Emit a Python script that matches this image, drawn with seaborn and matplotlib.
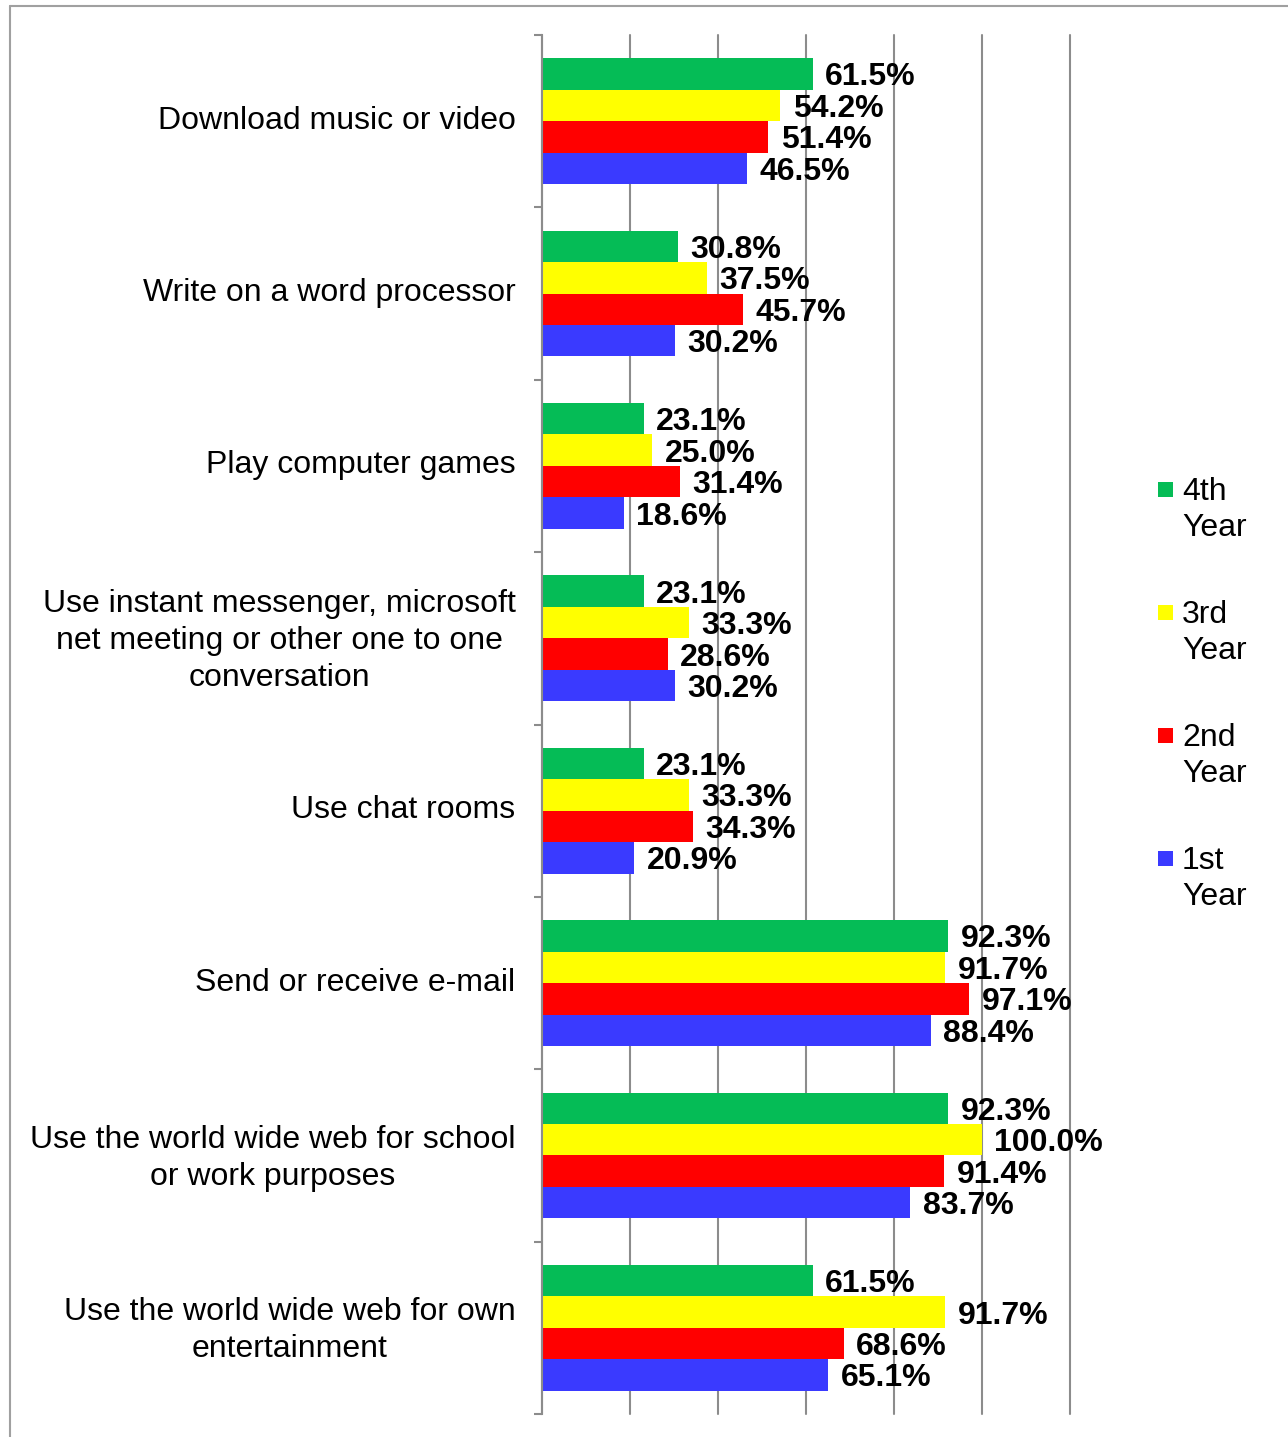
import matplotlib
matplotlib.use("Agg")
import matplotlib.pyplot as plt
from matplotlib.lines import Line2D
from matplotlib.patches import Rectangle
from matplotlib.transforms import ScaledTranslation
import seaborn as sns
import pandas as pd

categories = [
    "Download music or video",
    "Write on a word processor",
    "Play computer games",
    "Use instant messenger, microsoft\nnet meeting or other one to one\nconversation",
    "Use chat rooms",
    "Send or receive e-mail",
    "Use the world wide web for school\nor work purposes",
    "Use the world wide web for own\nentertainment",
]
years = ["4th\nYear", "3rd\nYear", "2nd\nYear", "1st\nYear"]
year4 = [61.5, 30.8, 23.1, 23.1, 23.1, 92.3, 92.3, 61.5]
year3 = [54.2, 37.5, 25.0, 33.3, 33.3, 91.7, 100.0, 91.7]
year2 = [51.4, 45.7, 31.4, 28.6, 34.3, 97.1, 91.4, 68.6]
year1 = [46.5, 30.2, 18.6, 30.2, 20.9, 88.4, 83.7, 65.1]
colors = ["#05BC56", "#FFFF00", "#FF0000", "#3A3AFF"]

rows = []
for yr, vals in zip(years, [year4, year3, year2, year1]):
    for cat, v in zip(categories, vals):
        rows.append({"Activity": cat, "Year": yr, "Percent": v})
df = pd.DataFrame(rows)

sns.set_style("white")
plt.rcParams["font.family"] = ["Liberation Sans", "DejaVu Sans"]
plt.rcParams["text.color"] = "black"
plt.rcParams["xtick.color"] = "black"
plt.rcParams["ytick.color"] = "black"

W, H = 1288, 1437
fig = plt.figure(figsize=(W / 100, H / 100), dpi=100)
ax = fig.add_axes([542 / W, 1 - 1414 / H, (1070 - 542) / W, (1414 - 35) / H])

sns.barplot(data=df, y="Activity", x="Percent", hue="Year", order=categories,
            hue_order=years, palette=colors, orient="h", width=0.73,
            saturation=1, legend=False, ax=ax, linewidth=0)

ax.set_xlim(0, 120)
ax.set_ylim(len(categories) - 0.5, -0.5)
ax.set_xticks(range(0, 121, 20))
ax.set_xticklabels([])
ax.tick_params(axis="x", length=0)
ax.grid(axis="x", color="#8C8C8C", linewidth=1.5)
for gl in ax.get_xgridlines():
    gl.set_clip_on(False)
ax.set_axisbelow(True)
ax.set_xlabel("")
ax.set_ylabel("")

for side in ["top", "right", "bottom"]:
    ax.spines[side].set_visible(False)
ax.spines["left"].set_color("#8C8C8C")
ax.spines["left"].set_linewidth(1.5)

ax.set_yticks(range(len(categories)))
ax.set_yticklabels(categories, fontsize=23, multialignment="center", color="black",
                   linespacing=1.3)
ax.tick_params(axis="y", which="major", length=0, pad=19)
nudge = ScaledTranslation(0, 4 / 100, fig.dpi_scale_trans)
for lbl in ax.get_yticklabels():
    lbl.set_transform(lbl.get_transform() + nudge)
ax.set_yticks([i - 0.5 for i in range(len(categories) + 1)], minor=True)
ax.tick_params(axis="y", which="minor", left=True, length=6, width=1.5, color="#8C8C8C")

for cont in ax.containers:
    anns = ax.bar_label(cont, fmt="%.1f%%", padding=9, fontsize=23, fontweight="bold",
                        color="black")
    for a in anns:
        a.xyann = (9, -2.5)

# legend at the right: square swatch next to the first line of each label
for i, (lab, col) in enumerate(zip(years, colors)):
    ytop = 482 + i * 123
    fig.add_artist(Rectangle((1158 / W, 1 - (ytop + 15) / H), 15 / W, 15 / H,
                             facecolor=col, edgecolor="none", transform=fig.transFigure))
    fig.text(1182 / W, 1 - (ytop - 5) / H, lab, fontsize=23, ha="left", va="top",
             linespacing=1.25, color="black")

# outer frame lines
fig.add_artist(Line2D([10 / W, 1], [1 - 6 / H, 1 - 6 / H], color="#A0A0A0", linewidth=1.5,
                      transform=fig.transFigure))
fig.add_artist(Line2D([10 / W, 10 / W], [0, 1 - 6 / H], color="#A0A0A0", linewidth=1.5,
                      transform=fig.transFigure))

fig.savefig("out.png", dpi=100)
